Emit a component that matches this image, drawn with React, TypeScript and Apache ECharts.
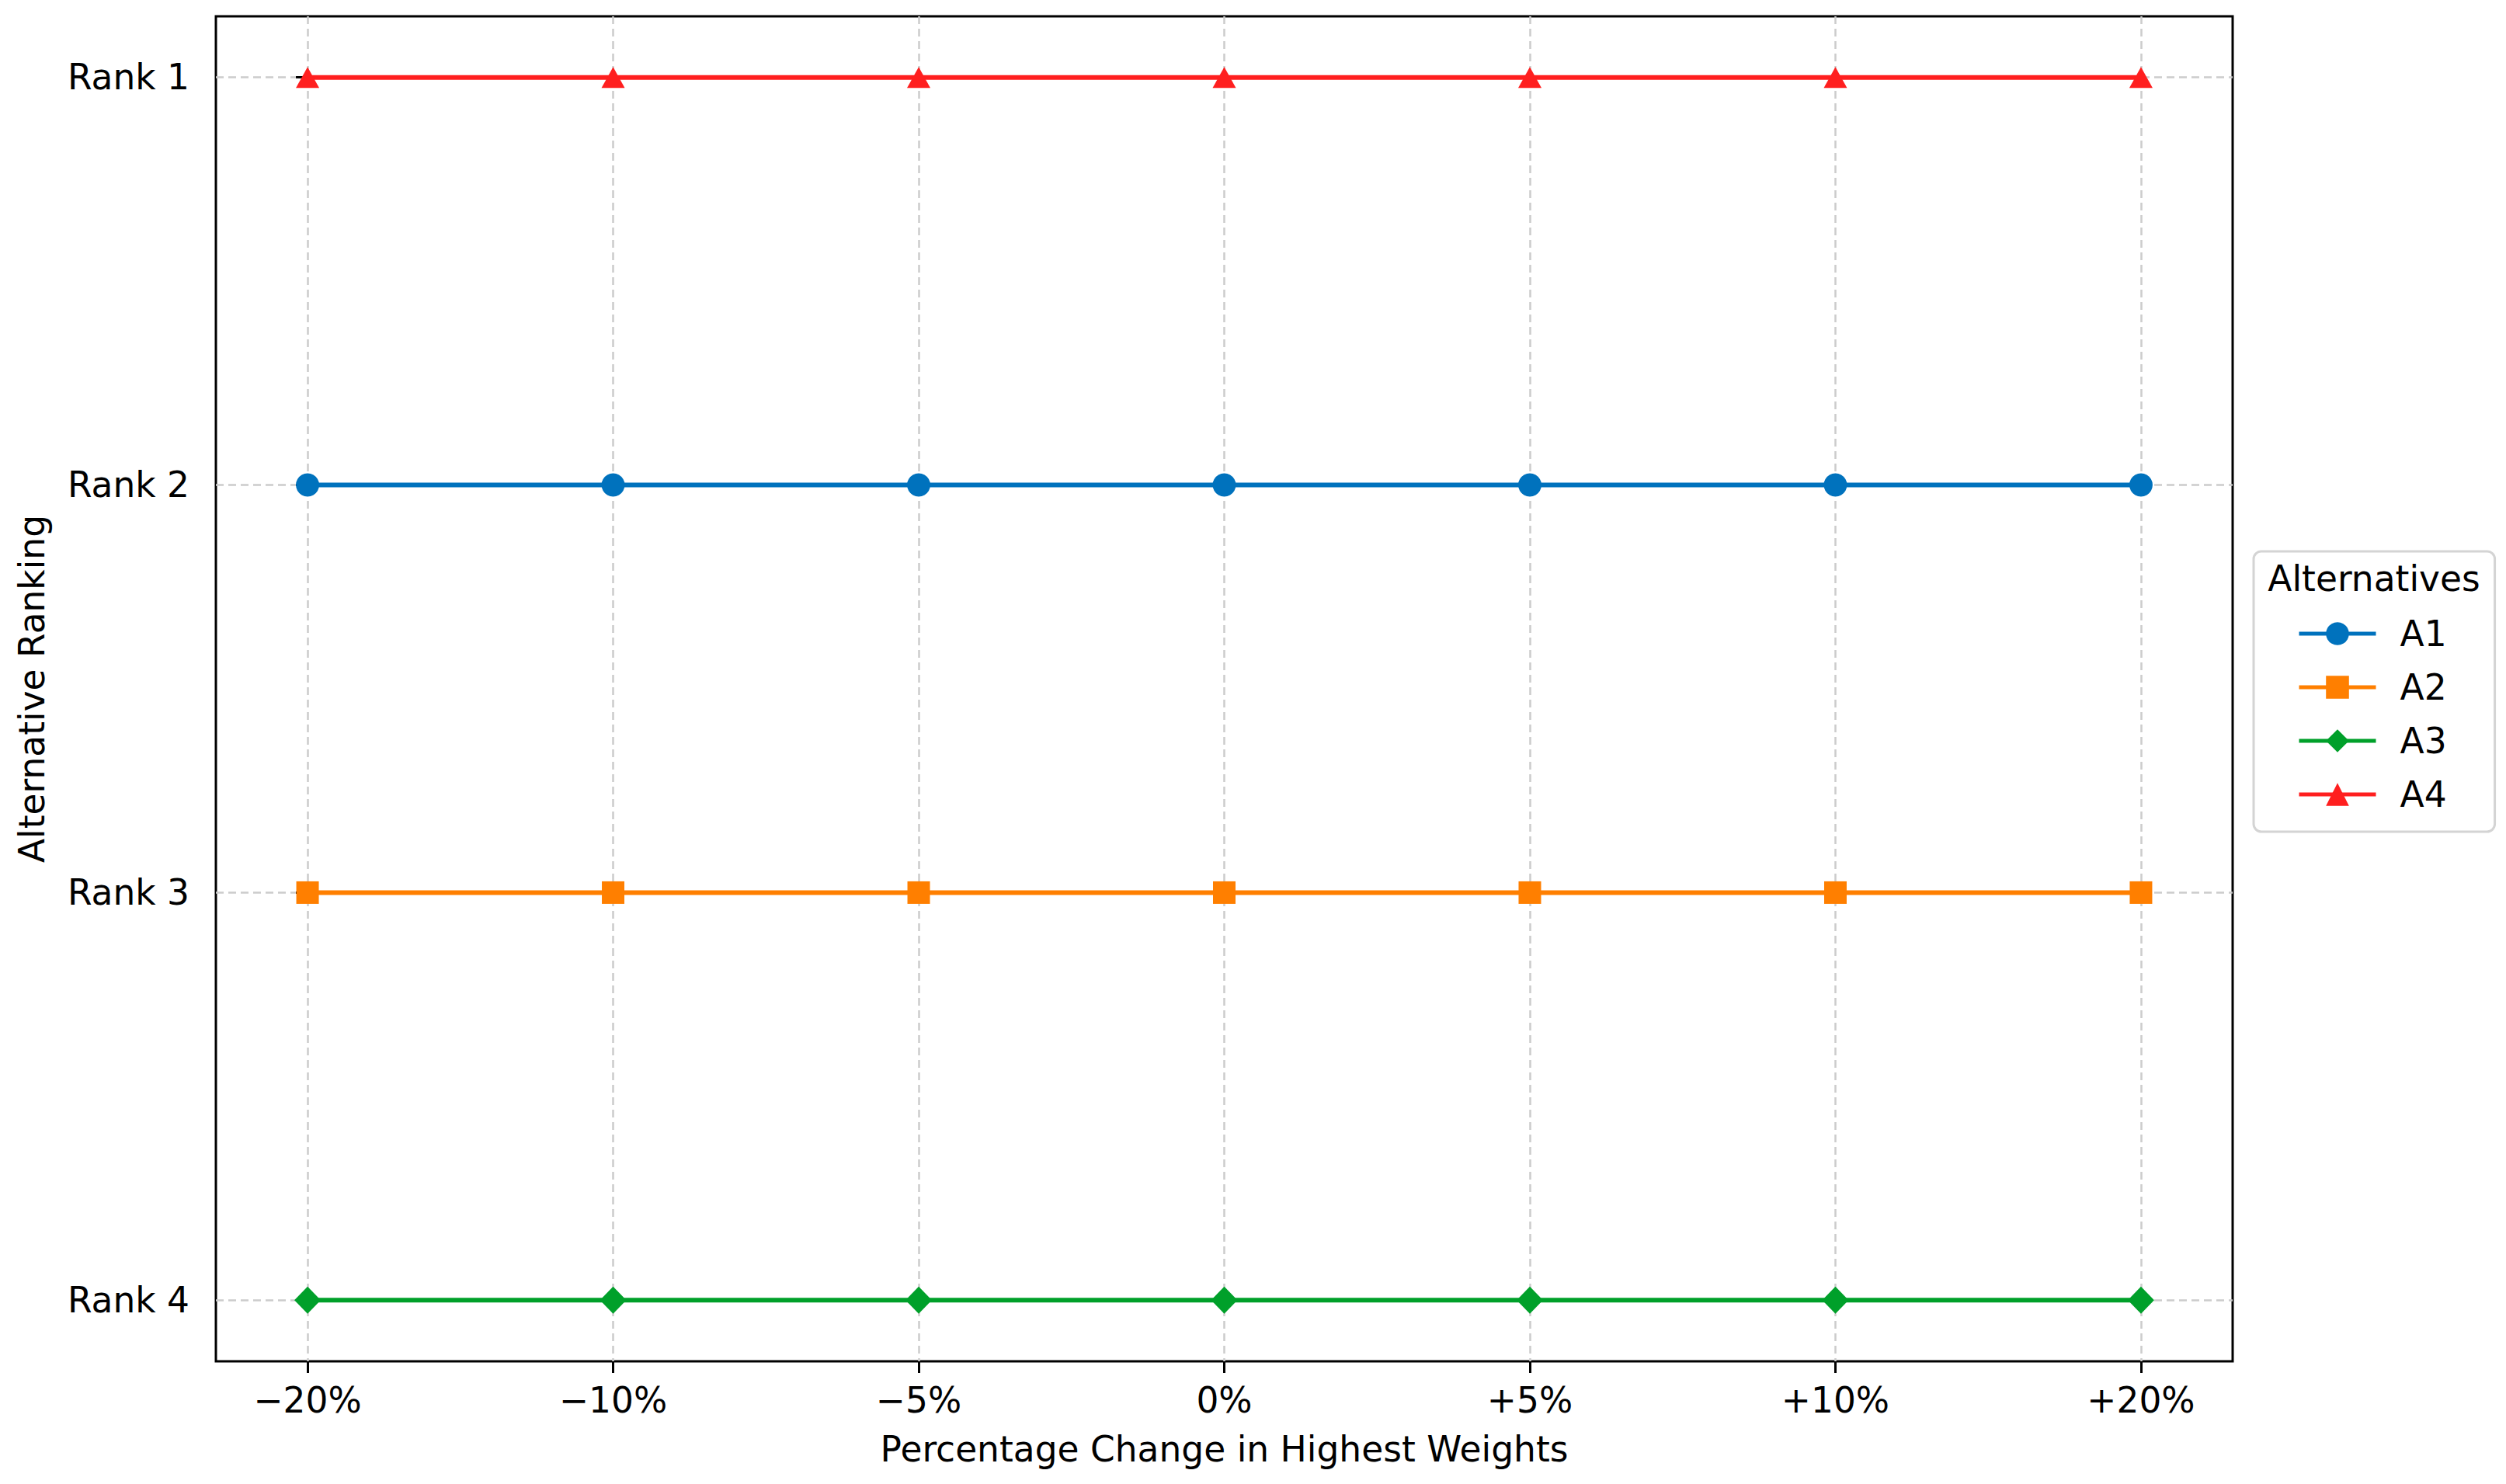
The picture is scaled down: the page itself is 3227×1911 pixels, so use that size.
import React, { useEffect, useRef } from "react";
import * as echarts from "echarts";

const xLabels = ["\u221220%", "\u221210%", "\u22125%", "0%", "+5%", "+10%", "+20%"];
const rankLabels = ["Rank 1", "Rank 2", "Rank 3", "Rank 4"];
const seriesNames = ["A1", "A2", "A3", "A4"];
const a1Ranks = [2, 2, 2, 2, 2, 2, 2];
const a2Ranks = [3, 3, 3, 3, 3, 3, 3];
const a3Ranks = [4, 4, 4, 4, 4, 4, 4];
const a4Ranks = [1, 1, 1, 1, 1, 1, 1];
const seriesColors = ["#0072bd", "#ff7f00", "#00a02a", "#ff1f1f"];
const seriesSymbols = ["circle", "rect", "diamond", "triangle"];
const seriesSymbolSizes: any[] = [30, 29, [34, 35], [30, 27]];

const FONT = "DejaVu Sans";
const FS = 45.5;

export default function App() {
  const ref = useRef<HTMLDivElement>(null);
  useEffect(() => {
    document.body.style.margin = "0";
    if (!ref.current) return;
    const chart = echarts.init(ref.current, undefined, { renderer: "svg" });
    const allRanks = [a1Ranks, a2Ranks, a3Ranks, a4Ranks];
    const xTicks = xLabels.map((_, i) => i);
    const yTicks = rankLabels.map((_, i) => i + 1);
    const option: any = {
      animation: false,
      backgroundColor: "#ffffff",
      textStyle: { fontFamily: FONT },
      grid: {
        left: 278,
        right: 352,
        top: 21,
        bottom: 158,
        show: true,
        borderColor: "#000000",
        borderWidth: 3,
        backgroundColor: "transparent",
        containLabel: false,
        outerBoundsMode: "none",
      },
      xAxis: {
        type: "value",
        min: -0.3,
        max: 6.3,
        name: "Percentage Change in Highest Weights",
        nameLocation: "middle",
        nameGap: 90,
        nameTextStyle: { fontSize: FS, color: "#000", fontFamily: FONT },
        axisLine: { show: false },
        axisTick: {
          show: true,
          customValues: xTicks,
          length: 15,
          lineStyle: { color: "#000", width: 3 },
        },
        axisLabel: {
          customValues: xTicks,
          margin: 27,
          fontSize: FS,
          color: "#000",
          fontFamily: FONT,
          formatter: (v: number) => xLabels[Math.round(v)] ?? "",
        },
        splitLine: {
          show: true,
          lineStyle: { color: "#cccccc", width: 2.5, type: [10, 6] },
        },
      },
      yAxis: {
        type: "value",
        inverse: true,
        min: 0.85,
        max: 4.15,
        name: "Alternative Ranking",
        nameLocation: "middle",
        nameGap: 214,
        nameTextStyle: { fontSize: FS, color: "#000", fontFamily: FONT },
        axisLine: { show: false },
        axisTick: {
          show: true,
          customValues: yTicks,
          length: 15,
          lineStyle: { color: "#000", width: 3 },
        },
        axisLabel: {
          customValues: yTicks,
          margin: 34,
          fontSize: FS,
          color: "#000",
          fontFamily: FONT,
          formatter: (v: number) => rankLabels[Math.round(v) - 1] ?? "",
        },
        splitLine: {
          show: true,
          lineStyle: { color: "#cccccc", width: 2.5, type: [10, 6] },
        },
      },
      legend: {
        orient: "vertical",
        left: 2902,
        top: 710,
        padding: [83, 62, 25, 56],
        itemWidth: 99,
        itemHeight: 37,
        itemGap: 23,
        backgroundColor: "#ffffff",
        borderColor: "#d4d4d4",
        borderWidth: 3,
        borderRadius: 10,
        data: seriesNames,
        lineStyle: { width: 5 },
        textStyle: {
          fontSize: FS,
          color: "#000",
          fontFamily: FONT,
          padding: [0, 0, 0, 26],
        },
      },
      graphic: [
        {
          type: "text",
          x: 3057,
          y: 745,
          z: 100,
          style: {
            text: "Alternatives",
            fontSize: FS,
            fontFamily: FONT,
            fill: "#000",
            textAlign: "center",
            textVerticalAlign: "middle",
          },
        },
      ],
      series: seriesNames.map((name, s) => ({
        name,
        type: "line",
        data: allRanks[s].map((v, i) => [i, v]),
        symbol: seriesSymbols[s],
        symbolSize: seriesSymbolSizes[s],
        showSymbol: true,
        color: seriesColors[s],
        itemStyle: { color: seriesColors[s] },
        lineStyle: { color: seriesColors[s], width: 6 },
        z: 3,
      })),
    };
    chart.setOption(option);
    return () => chart.dispose();
  }, []);
  return <div ref={ref} style={{ width: 3227, height: 1911 }} />;
}
